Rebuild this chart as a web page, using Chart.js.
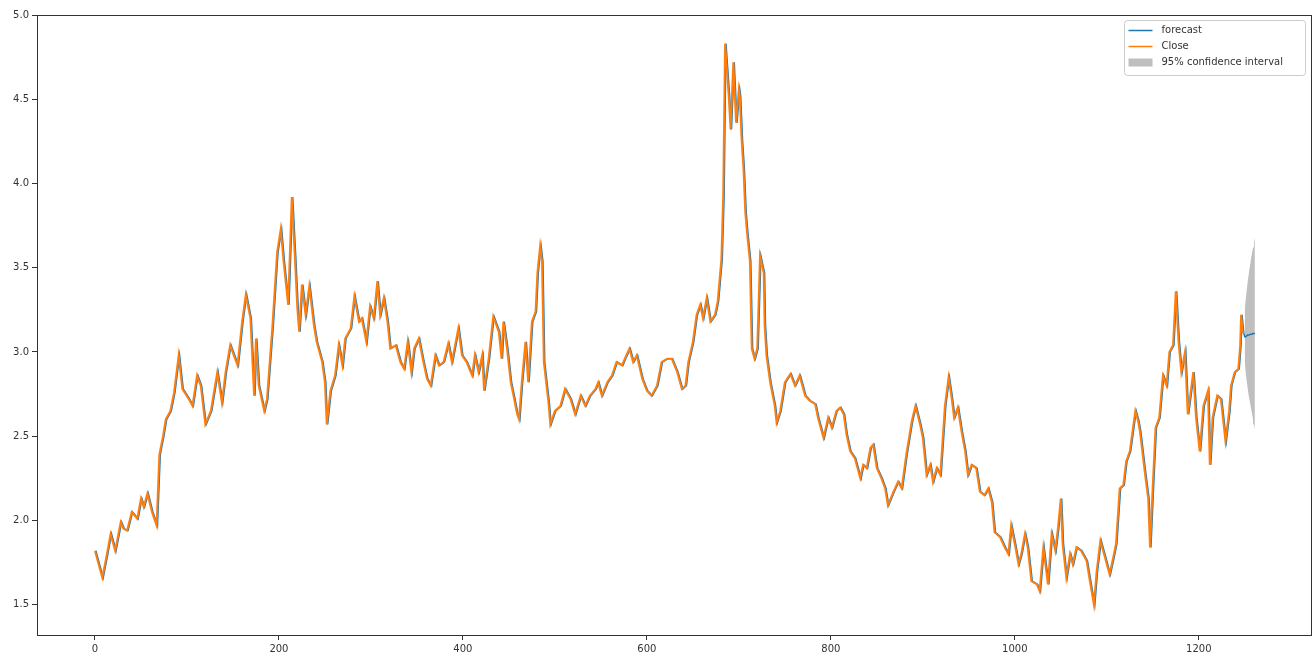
<!DOCTYPE html>
<html>
<head>
<meta charset="utf-8">
<script src="https://cdn.jsdelivr.net/npm/chart.js@4/dist/chart.umd.min.js"></script>
<style>
  html, body { margin: 0; padding: 0; background: #ffffff; }
  #chart { display: block; }
</style>
</head>
<body>
<canvas id="chart" width="1315" height="655"></canvas>
<script>
// Daily close series (observation index -> closing value)
const closeIndex = [
  0, 4, 8, 13, 17, 22, 28, 31, 35, 40, 46, 50, 53, 57, 62, 67, 70, 74, 77, 82,
  86, 91, 95, 102, 106, 111, 115, 120, 126, 133, 138, 142, 147, 151, 155, 160, 164, 169, 173, 175,
  178, 184, 187, 193, 198, 202, 205, 210, 214, 217, 220, 222, 225, 229, 233, 238, 241, 247, 250, 252,
  256, 261, 265, 269, 272, 278, 282, 287, 290, 295, 299, 303, 307, 310, 314, 318, 321, 327, 332, 336,
  340, 344, 347, 352, 357, 361, 365, 370, 374, 379, 384, 388, 395, 399, 404, 410, 413, 417, 421, 423,
  428, 433, 439, 442, 444, 448, 452, 455, 459, 461, 464, 468, 471, 475, 479, 481, 484, 486, 488, 493,
  495, 500, 506, 511, 517, 522, 528, 533, 538, 544, 547, 551, 557, 562, 567, 573, 576, 581, 585, 589,
  595, 600, 605, 611, 616, 622, 627, 633, 638, 642, 645, 650, 654, 658, 661, 665, 669, 674, 677, 681,
  683, 685, 689, 691, 694, 697, 700, 701, 703, 705, 707, 709, 712, 714, 717, 720, 723, 727, 728, 730,
  734, 739, 741, 745, 750, 756, 761, 766, 772, 777, 783, 786, 792, 797, 801, 806, 810, 814, 817, 821,
  826, 832, 835, 839, 843, 846, 850, 855, 859, 862, 868, 873, 877, 882, 888, 892, 897, 900, 904, 908,
  911, 915, 919, 924, 928, 931, 934, 938, 942, 946, 949, 953, 958, 962, 967, 971, 975, 978, 984, 989,
  993, 996, 1000, 1004, 1007, 1011, 1014, 1018, 1024, 1027, 1031, 1036, 1040, 1044, 1047, 1050, 1052, 1056, 1060, 1063,
  1067, 1072, 1078, 1081, 1086, 1089, 1093, 1098, 1103, 1107, 1110, 1114, 1118, 1121, 1125, 1128, 1131, 1134, 1136, 1141,
  1145, 1147, 1150, 1153, 1157, 1161, 1165, 1168, 1172, 1175, 1178, 1181, 1185, 1188, 1194, 1197, 1201, 1205, 1210, 1212,
  1215, 1220, 1224, 1229, 1233, 1235, 1239, 1243, 1245, 1246, 1248
];
const closeValue = [
  1.82, 1.74, 1.66, 1.80, 1.92, 1.82, 1.99, 1.95, 1.94, 2.05, 2.01, 2.13, 2.08, 2.16, 2.05, 1.97, 2.39, 2.50, 2.60, 2.65,
  2.76, 2.98, 2.78, 2.72, 2.68, 2.86, 2.80, 2.57, 2.65, 2.88, 2.70, 2.88, 3.04, 2.98, 2.92, 3.18, 3.34, 3.20, 2.74, 3.08,
  2.80, 2.65, 2.72, 3.16, 3.59, 3.73, 3.54, 3.28, 3.92, 3.60, 3.26, 3.12, 3.40, 3.22, 3.39, 3.16, 3.06, 2.94, 2.82, 2.57,
  2.77, 2.86, 3.04, 2.92, 3.08, 3.14, 3.33, 3.18, 3.20, 3.06, 3.27, 3.20, 3.42, 3.22, 3.32, 3.18, 3.02, 3.04, 2.94, 2.90,
  3.06, 2.88, 3.02, 3.08, 2.94, 2.84, 2.80, 2.98, 2.92, 2.94, 3.05, 2.94, 3.14, 2.98, 2.94, 2.86, 2.98, 2.88, 2.98, 2.77,
  2.96, 3.21, 3.12, 2.96, 3.18, 3.02, 2.82, 2.74, 2.63, 2.60, 2.82, 3.06, 2.82, 3.18, 3.24, 3.47, 3.63, 3.54, 2.94, 2.70,
  2.57, 2.65, 2.68, 2.78, 2.72, 2.63, 2.74, 2.68, 2.74, 2.78, 2.82, 2.74, 2.82, 2.86, 2.94, 2.92, 2.96, 3.02, 2.94, 2.98,
  2.84, 2.77, 2.74, 2.80, 2.94, 2.96, 2.96, 2.88, 2.78, 2.80, 2.94, 3.06, 3.22, 3.28, 3.20, 3.32, 3.18, 3.22, 3.30, 3.55,
  3.93, 4.83, 4.52, 4.32, 4.72, 4.36, 4.56, 4.52, 4.26, 4.09, 3.83, 3.70, 3.54, 3.02, 2.96, 3.02, 3.57, 3.47, 3.16, 2.98,
  2.82, 2.68, 2.58, 2.65, 2.82, 2.87, 2.80, 2.86, 2.74, 2.71, 2.69, 2.61, 2.49, 2.61, 2.55, 2.65, 2.67, 2.63, 2.51, 2.41,
  2.37, 2.25, 2.33, 2.31, 2.43, 2.45, 2.31, 2.25, 2.19, 2.09, 2.17, 2.23, 2.19, 2.39, 2.59, 2.68, 2.57, 2.49, 2.27, 2.33,
  2.23, 2.31, 2.27, 2.68, 2.85, 2.74, 2.61, 2.67, 2.53, 2.41, 2.27, 2.33, 2.31, 2.17, 2.15, 2.19, 2.11, 1.93, 1.90, 1.84,
  1.80, 1.97, 1.86, 1.74, 1.80, 1.92, 1.84, 1.64, 1.62, 1.58, 1.84, 1.62, 1.92, 1.82, 1.96, 2.13, 1.86, 1.66, 1.80, 1.74,
  1.84, 1.82, 1.76, 1.66, 1.50, 1.70, 1.88, 1.78, 1.68, 1.78, 1.86, 2.19, 2.21, 2.35, 2.41, 2.53, 2.65, 2.59, 2.53, 2.30,
  2.13, 1.84, 2.21, 2.55, 2.61, 2.86, 2.80, 3.00, 3.04, 3.36, 3.06, 2.88, 3.00, 2.63, 2.88, 2.61, 2.41, 2.68, 2.77, 2.33,
  2.61, 2.74, 2.72, 2.47, 2.65, 2.80, 2.88, 2.90, 3.04, 3.22, 3.11
];

// Out-of-sample forecast with its 95% confidence band
const forecastIndex = [1250, 1251, 1252, 1253, 1254, 1255, 1256, 1257, 1258, 1259, 1260, 1261];
const forecastValue = [3.09, 3.09, 3.095, 3.10, 3.10, 3.10, 3.105, 3.105, 3.105, 3.11, 3.11, 3.11];
const ciLower = [2.94, 2.88, 2.83, 2.79, 2.75, 2.72, 2.69, 2.66, 2.63, 2.60, 2.57, 2.54];
const ciUpper = [3.25, 3.31, 3.36, 3.41, 3.45, 3.49, 3.52, 3.56, 3.59, 3.62, 3.65, 3.68];

// Axis ticks
const xTickValues = [0, 200, 400, 600, 800, 1000, 1200];
const yTickValues = [1.5, 2.0, 2.5, 3.0, 3.5, 4.0, 4.5, 5.0];

const FONT = '"DejaVu Sans", "Liberation Sans", sans-serif';
const BLUE = '#1f77b4';
const ORANGE = '#ff7f0e';
const BAND = 'rgba(128,128,128,0.5)';

// In-sample one-step-ahead forecast: each close value predicts the next step
const forecastPoints = closeIndex.map((x, i) => ({ x: x + 1, y: closeValue[i] }))
  .concat(forecastIndex.map((x, i) => ({ x: x, y: forecastValue[i] })));
const closePoints = closeIndex.map((x, i) => ({ x: x, y: closeValue[i] }));
const lowerPoints = forecastIndex.map((x, i) => ({ x: x, y: ciLower[i] }));
const upperPoints = forecastIndex.map((x, i) => ({ x: x, y: ciUpper[i] }));

// White background
const background = {
  id: 'background',
  beforeDraw(chart) {
    const c = chart.ctx;
    c.save();
    c.fillStyle = '#ffffff';
    c.fillRect(0, 0, chart.width, chart.height);
    c.restore();
  }
};

// Closed frame around the plotting area
const frame = {
  id: 'frame',
  afterDatasetsDraw(chart) {
    const a = chart.chartArea;
    const c = chart.ctx;
    c.save();
    c.strokeStyle = '#333333';
    c.lineWidth = 1;
    c.strokeRect(Math.round(a.left) + 0.5, Math.round(a.top) + 0.5,
                 Math.round(a.right - a.left), Math.round(a.bottom - a.top));
    c.restore();
  }
};

// Legend box in the upper right corner of the plot
const innerLegend = {
  id: 'innerLegend',
  afterDraw(chart) {
    const c = chart.ctx;
    const a = chart.chartArea;
    const entries = chart.data.datasets.filter(d => d.legendKind);
    const boxW = 181, boxH = 55;
    const bx = a.right - boxW - 5.5, by = a.top + 5.5;
    c.save();
    c.beginPath();
    c.roundRect(bx, by, boxW, boxH, 3);
    c.fillStyle = 'rgba(255,255,255,0.8)';
    c.fill();
    c.strokeStyle = '#cccccc';
    c.lineWidth = 1;
    c.stroke();
    c.font = '10px ' + FONT;
    c.textBaseline = 'middle';
    c.textAlign = 'left';
    entries.forEach((d, i) => {
      const cy = by + 10 + i * 16;
      const hx = bx + 4;
      if (d.legendKind === 'line') {
        c.strokeStyle = d.borderColor;
        c.lineWidth = 1.5;
        c.beginPath();
        c.moveTo(hx, cy);
        c.lineTo(hx + 24, cy);
        c.stroke();
      } else {
        c.fillStyle = d.backgroundColor;
        c.fillRect(hx, cy - 4, 24, 8);
      }
      c.fillStyle = '#333333';
      c.fillText(d.label, hx + 33, cy);
    });
    c.restore();
  }
};

new Chart(document.getElementById('chart'), {
  type: 'line',
  data: {
    datasets: [
      {
        label: 'forecast', legendKind: 'line', data: forecastPoints,
        borderColor: BLUE, borderWidth: 1.5, pointRadius: 0, fill: false, order: 2
      },
      {
        label: 'Close', legendKind: 'line', data: closePoints,
        borderColor: ORANGE, borderWidth: 2, pointRadius: 0, fill: false, order: 1
      },
      {
        label: '95% confidence interval', legendKind: 'area', data: upperPoints,
        borderWidth: 0, borderColor: 'rgba(0,0,0,0)', backgroundColor: BAND,
        pointRadius: 0, fill: 3, order: 3
      },
      {
        label: 'lower', data: lowerPoints,
        borderWidth: 0, borderColor: 'rgba(0,0,0,0)', backgroundColor: BAND,
        pointRadius: 0, fill: false, order: 3
      }
    ]
  },
  options: {
    responsive: false,
    animation: false,
    devicePixelRatio: 1,
    layout: { padding: { top: 15, right: 4, bottom: 0, left: 0 } },
    plugins: { legend: { display: false }, tooltip: { enabled: false } },
    scales: {
      x: {
        type: 'linear', min: -63, max: 1322,
        afterBuildTicks(s) { s.ticks = xTickValues.map(v => ({ value: v })); },
        afterFit(s) { s.height = 20; },
        ticks: {
          font: { family: FONT, size: 10 }, color: '#333333', padding: 3,
          maxRotation: 0, autoSkip: false, callback: v => String(v)
        },
        grid: { display: true, drawOnChartArea: false, drawTicks: true, tickLength: 5, color: '#333333' },
        border: { display: true, color: '#333333' }
      },
      y: {
        type: 'linear', min: 1.32, max: 5.0,
        afterBuildTicks(s) { s.ticks = yTickValues.map(v => ({ value: v })); },
        afterFit(s) { s.width = 37; },
        ticks: {
          font: { family: FONT, size: 10 }, color: '#333333', padding: 3,
          autoSkip: false, callback: v => v.toFixed(1)
        },
        grid: { display: true, drawOnChartArea: false, drawTicks: true, tickLength: 5, color: '#333333' },
        border: { display: true, color: '#333333' }
      }
    }
  },
  plugins: [background, frame, innerLegend]
});
</script>
</body>
</html>
